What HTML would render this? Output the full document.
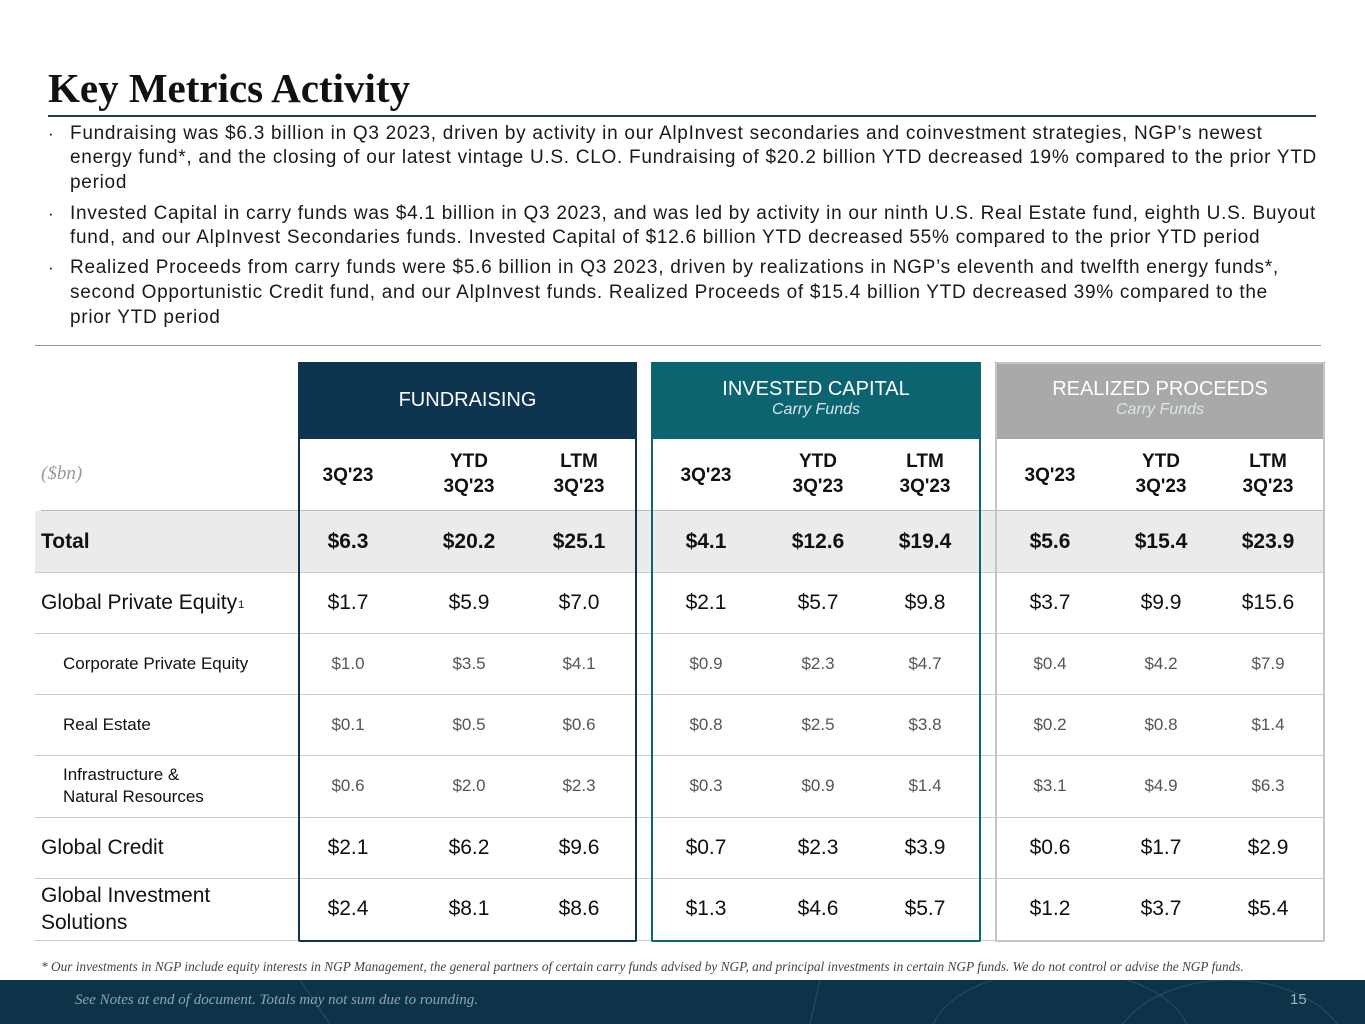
<!DOCTYPE html>
<html><head><meta charset="utf-8">
<style>
*{margin:0;padding:0;box-sizing:border-box}
html,body{width:1365px;height:1024px;overflow:hidden}
body{position:relative;background:#fff;font-family:"Liberation Sans",sans-serif;color:#111}
.abs{position:absolute}
.title{left:48px;top:64px;font-family:"Liberation Serif",serif;font-weight:bold;font-size:41px;color:#111}
.bl{left:70px;font-size:19px;letter-spacing:0.72px;white-space:nowrap;color:#1a1a1a}
.dot{left:48px;font-size:17px}
.box{border:2px solid;border-radius:2px}
.gh{color:#fff;text-align:center;font-size:20px}
.gh i{display:block;font-size:16px;color:#d8e6ea}
.ch{font-weight:bold;font-size:19px;text-align:center;line-height:25px;width:100px}
.cell{text-align:center;width:100px}
.hl{height:1px;background:#ccc;left:35px;width:1289px}
</style></head><body>
<div class="abs title">Key Metrics Activity</div>
<div class="abs" style="left:48px;top:115px;width:1268px;height:2px;background:#1f3b50"></div>
<div>
<div class="abs dot" style="top:124px">·</div>
<div class="abs bl" style="top:123px">Fundraising was $6.3 billion in Q3 2023, driven by activity in our AlpInvest secondaries and coinvestment strategies, NGP’s newest</div>
<div class="abs bl" style="top:147px">energy fund*, and the closing of our latest vintage U.S. CLO. Fundraising of $20.2 billion YTD decreased 19% compared to the prior YTD</div>
<div class="abs bl" style="top:172px">period</div>
<div class="abs dot" style="top:204px">·</div>
<div class="abs bl" style="top:203px">Invested Capital in carry funds was $4.1 billion in Q3 2023, and was led by activity in our ninth U.S. Real Estate fund, eighth U.S. Buyout</div>
<div class="abs bl" style="top:227px">fund, and our AlpInvest Secondaries funds. Invested Capital of $12.6 billion YTD decreased 55% compared to the prior YTD period</div>
<div class="abs dot" style="top:258px">·</div>
<div class="abs bl" style="top:257px">Realized Proceeds from carry funds were $5.6 billion in Q3 2023, driven by realizations in NGP’s eleventh and twelfth energy funds*,</div>
<div class="abs bl" style="top:282px">second Opportunistic Credit fund, and our AlpInvest funds. Realized Proceeds of $15.4 billion YTD decreased 39% compared to the</div>
<div class="abs bl" style="top:307px">prior YTD period</div>
</div>
<div class="abs" style="left:35px;top:345px;width:1286px;height:1px;background:#999"></div>

<div id="table"></div>

<div class="abs" style="left:41px;top:959px;font-family:'Liberation Serif',serif;font-style:italic;font-size:13.3px;color:#444;white-space:nowrap">* Our investments in NGP include equity interests in NGP Management, the general partners of certain carry funds advised by NGP, and principal investments in certain NGP funds. We do not control or advise the NGP funds.</div>
<div class="abs" style="left:0;top:980px;width:1365px;height:44px;background:#0d3349;overflow:hidden">
<svg width="1365" height="44" style="position:absolute;left:0;top:0"><g fill="none" stroke="#2a5570" stroke-width="1.2" opacity="0.7"><ellipse cx="1060" cy="60" rx="130" ry="70"/><ellipse cx="1230" cy="80" rx="120" ry="80"/><line x1="300" y1="0" x2="330" y2="44"/><line x1="820" y1="0" x2="810" y2="44"/></g></svg>
<div class="abs" style="left:75px;top:12px;font-family:'Liberation Serif',serif;font-style:italic;font-size:15px;color:#8fa3b0;white-space:nowrap">See Notes at end of document. Totals may not sum due to rounding.</div>
<div class="abs" style="left:1290px;top:11px;font-size:15px;color:#9fb2be">15</div>
</div>

<script>
const groups=["FUNDRAISING","INVESTED CAPITAL","REALIZED PROCEEDS"];
const groupSubs=["","Carry Funds","Carry Funds"];
const rowLabels=["Total","Global Private Equity","Corporate Private Equity","Real Estate","Infrastructure &<br>Natural Resources","Global Credit","Global Investment<br>Solutions"];
const fundraising=[["$6.3","$20.2","$25.1"],["$1.7","$5.9","$7.0"],["$1.0","$3.5","$4.1"],["$0.1","$0.5","$0.6"],["$0.6","$2.0","$2.3"],["$2.1","$6.2","$9.6"],["$2.4","$8.1","$8.6"]];
const invested=[["$4.1","$12.6","$19.4"],["$2.1","$5.7","$9.8"],["$0.9","$2.3","$4.7"],["$0.8","$2.5","$3.8"],["$0.3","$0.9","$1.4"],["$0.7","$2.3","$3.9"],["$1.3","$4.6","$5.7"]];
const realized=[["$5.6","$15.4","$23.9"],["$3.7","$9.9","$15.6"],["$0.4","$4.2","$7.9"],["$0.2","$0.8","$1.4"],["$3.1","$4.9","$6.3"],["$0.6","$1.7","$2.9"],["$1.2","$3.7","$5.4"]];
const colHeads=["3Q'23","YTD<br>3Q'23","LTM<br>3Q'23"];
const T=document.getElementById('table');
const rowTops=[511,572,633,694,755,817,878,940];
const boxX=[[298,636],[651,980],[995,1324]];
const boxCol=["#0e3550","#0d6471","#c4c4c4"];
const headBg=["#0e3550","#0d6471","#a9a9a9"];
const colX=[[348,469,579],[706,818,925],[1050,1161,1268]];
const data=[fundraising,invested,realized];
function mk(cls,style,html){const d=document.createElement('div');d.className='abs '+cls;d.style.cssText=style;d.innerHTML=html;T.appendChild(d);return d;}
let e=mk('','left:35px;top:511px;width:1289px;height:61px;background:#ebebeb','');


for(let i=1;i<8;i++){let l=mk('hl','top:'+rowTops[i]+'px','');

}
let t0=mk('','left:41px;top:510px;height:1px;width:1283px;background:#bbb','');


let u=mk('','left:41px;top:463px;font-family:"Liberation Serif",serif;font-style:italic;font-size:19px;color:#999','($bn)');


for(let g=0;g<3;g++){
 const [x0,x1]=boxX[g];
 let h=mk('gh','left:'+x0+'px;top:362px;width:'+(x1-x0+1)+'px;height:77px;background:'+headBg[g]+';padding-top:'+(groupSubs[g]?16:27)+'px',groups[g]+(groupSubs[g]?'<i>'+groupSubs[g]+'</i>':''));
 
 
 let b=mk('box','left:'+x0+'px;top:362px;width:'+(x1-x0+1)+'px;height:580px;border-color:'+boxCol[g],'');
 
 
 for(let c=0;c<3;c++){
  let ch=mk('ch','left:'+(colX[g][c]-50)+'px;top:'+(c==0?463:449)+'px',colHeads[c]);
  
  
  for(let r=0;r<7;r++){
   const top=rowTops[r], hgt=rowTops[r+1]-top;
   const bold=r==0, big=r<2||r>4;
   let v=mk('cell','left:'+(colX[g][c]-50)+'px;top:'+top+'px;height:'+hgt+'px;line-height:'+hgt+'px;font-size:'+(big?21:17)+'px;'+(bold?'font-weight:bold;':'')+'color:'+(big?'#111':'#555'),data[g][r][c]);
   
   
  }
 }
}
for(let r=0;r<7;r++){
 const top=rowTops[r],hgt=rowTops[r+1]-top;
 const sub=r>=2&&r<=4;
 let l=mk('','left:'+(sub?63:41)+'px;top:'+top+'px;height:'+hgt+'px;display:flex;align-items:center;line-height:'+(sub?22:27)+'px;font-size:'+(sub?17:21)+'px;'+(r==0?'font-weight:bold;':'')+'color:#111',rowLabels[r]+(r==1?'<span style="font-size:11px;align-self:flex-start;margin-top:20px;margin-left:1px">1</span>':''));
 
 
}
</script>
</body></html>
